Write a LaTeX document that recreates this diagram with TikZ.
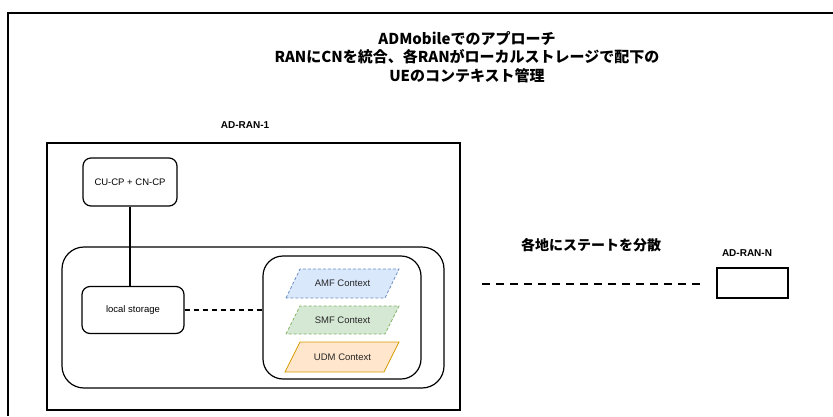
\documentclass[tikz,border=0pt]{standalone}
\usepackage{fontspec}
\setmainfont{Liberation Sans}
\newfontfamily\jp{Noto Sans CJK JP}
\usetikzlibrary{calc}

\definecolor{amffill}{HTML}{DAE8FC}
\definecolor{amfline}{HTML}{6C8EBF}
\definecolor{smffill}{HTML}{D5E8D4}
\definecolor{smfline}{HTML}{82B366}
\definecolor{udmfill}{HTML}{FFE6CC}
\definecolor{udmline}{HTML}{D79B00}

\tikzset{
  rbox/.style={draw, line width=1.2pt, rounded corners=8pt, inner sep=0pt,
               font=\fontsize{9.5}{11}\selectfont},
  group/.style={draw, line width=1.2pt, inner sep=0pt},
  heavy/.style={draw, line width=2pt, inner sep=0pt},
  tag/.style={font=\fontsize{10}{12}\selectfont\bfseries, inner sep=0pt},
  ctxtext/.style={font=\fontsize{9.5}{11}\selectfont, text=black!85, inner sep=0pt},
  ctxshape/.style={line width=0.8pt, line join=miter},
  softdash/.style={dash pattern=on 3pt off 2pt},
}

\begin{document}
\begin{tikzpicture}[x=1pt, y=-1pt]
  \useasboundingbox (0,0) rectangle (833,416);

  % page frame (left and top edges)
  \draw[line width=1.2pt] (8,416) -- (8,13) -- (833,13);

  % heading
  \node[align=center, inner sep=0pt, font=\jp\fontsize{15}{18.5}\selectfont\bfseries] (title) at (467,57)
    {ADMobileでのアプローチ\\RANにCNを統合、各RANがローカルストレージで配下の\\UEのコンテキスト管理};

  % AD-RAN-1
  \node[tag] (ran1label) at (245,125) {AD-RAN-1};
  \node[heavy, minimum width=413pt, minimum height=267pt] (ran1) at (253.5,276.5) {};

  \node[rbox, minimum width=94pt, minimum height=48pt] (cucp) at (130,182) {CU-CP + CN-CP};
  \node[group, rounded corners=22pt, minimum width=382pt, minimum height=141pt] (store) at (253,317.5) {};
  \node[rbox, minimum width=102pt, minimum height=47pt] (ls) at (133,310) {local storage};
  \node[group, rounded corners=20pt, minimum width=158pt, minimum height=123pt] (ctx) at (342,317.5) {};

  % UE contexts
  \filldraw[ctxshape, softdash, fill=amffill, draw=amfline]
    (286,298) -- (300,269) -- (399,269) -- (385,298) -- cycle;
  \node[ctxtext] (amf) at (342.5,283.5) {AMF Context};
  \filldraw[ctxshape, softdash, fill=smffill, draw=smfline]
    (286,334) -- (300,306) -- (399,306) -- (385,334) -- cycle;
  \node[ctxtext] (smf) at (342.5,320) {SMF Context};
  \filldraw[ctxshape, fill=udmfill, draw=udmline]
    (285,372) -- (300,342) -- (399,342) -- (384,372) -- cycle;
  \node[ctxtext] (udm) at (342.5,357) {UDM Context};

  % links inside AD-RAN-1
  \draw[line width=1.2pt] (cucp.south) -- (cucp.south |- ls.north);
  \draw[line width=1.2pt, dash pattern=on 5pt off 4pt] (ls.east) -- (ls.east -| ctx.west);

  % distribution to other sites
  \node[font=\jp\fontsize{14}{16}\selectfont\bfseries, inner sep=0pt] (spread) at (591,245) {各地にステートを分散};
  \coordinate (spreadL) at (482,284);
  \coordinate (spreadR) at (702,284);
  \draw[line width=2pt, dash pattern=on 8pt off 6pt] (spreadL) -- (spreadR);

  % AD-RAN-N
  \node[tag] (ranNlabel) at (747,253) {AD-RAN-N};
  \node[heavy, minimum width=71pt, minimum height=30pt] (ranN) at (752.5,283) {};
\end{tikzpicture}
\end{document}
